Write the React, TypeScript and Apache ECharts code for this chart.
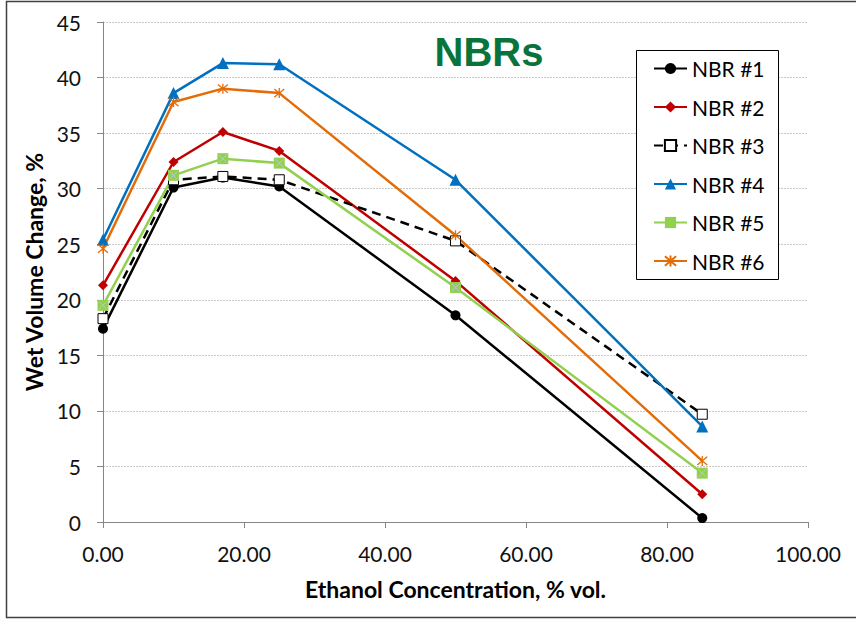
import React, { useEffect, useRef } from "react";
import * as echarts from "echarts";

const ethanol = [0, 10, 17, 25, 50, 85];
const seriesNames = ["NBR #1", "NBR #2", "NBR #3", "NBR #4", "NBR #5", "NBR #6"];
const nbr1 = [17.4, 30.1, 31.0, 30.2, 18.6, 0.35];
const nbr2 = [21.3, 32.4, 35.1, 33.4, 21.7, 2.5];
const nbr3 = [18.3, 30.8, 31.1, 30.8, 25.3, 9.7];
const nbr4 = [25.4, 38.6, 41.3, 41.2, 30.8, 8.6];
const nbr5 = [19.5, 31.2, 32.7, 32.3, 21.1, 4.4];
const nbr6 = [24.6, 37.8, 39.0, 38.6, 25.8, 5.5];
const chartTitle = "NBRs";
const xTitle = "Ethanol Concentration, % vol.";
const yTitle = "Wet Volume Change, %";

const FONT = "Lato, 'Open Sans', sans-serif";

const pair = (vals: number[]) => ethanol.map((x, i) => [x, vals[i]]);

export default function App() {
  const ref = useRef<HTMLDivElement>(null);
  useEffect(() => {
    if (!ref.current) return;
    const chart = echarts.init(ref.current, undefined, { renderer: "svg" });
    const starPath = "path://M0,0L10,10M10,0L0,10M5,-1L5,11";
    const xPath = "path://M0,0L10,10M10,0L0,10";
    const mk = (
      name: string,
      vals: number[],
      color: string,
      symbol: string,
      size: number,
      extra: any = {}
    ) => ({
      name,
      type: "line",
      data: pair(vals),
      symbol,
      symbolSize: size,
      showSymbol: true,
      lineStyle: { color, width: 2.5, type: "solid" },
      itemStyle: { color, borderColor: color, borderWidth: 0 },
      ...extra,
    });
    const series: any[] = [
      mk("NBR #1", nbr1, "#000000", "circle", 10),
      mk("NBR #2", nbr2, "#c00000", "diamond", 10),
      mk("NBR #3", nbr3, "#000000", "rect", 10, {
        lineStyle: { color: "#000", width: 2.5, type: [9, 6] },
        itemStyle: { color: "#ffffff", borderColor: "#000", borderWidth: 1 },
      }),
      mk("NBR #4", nbr4, "#0070c0", "triangle", 12),
      mk("NBR #5", nbr5, "#92d050", "rect", 11),
      mk("NBR #6", nbr6, "#e36c09", starPath, 10, {
        itemStyle: { color: "rgba(0,0,0,0)", borderColor: "#e36c09", borderWidth: 1.3 },
      }),
      {
        name: "NBR #5 overlay",
        type: "line",
        data: pair(nbr5),
        symbol: xPath,
        symbolSize: 8,
        lineStyle: { width: 0, opacity: 0 },
        itemStyle: { color: "rgba(0,0,0,0)", borderColor: "rgba(200,200,220,0.8)", borderWidth: 1 },
        z: 3,
        silent: true,
      },
    ];
    chart.setOption({
      animation: false,
      textStyle: { fontFamily: FONT },
      grid: { left: 103, right: 48, top: 22, bottom: 98, containLabel: false },
      xAxis: {
        type: "value",
        min: 0,
        max: 100,
        interval: 20,
        name: xTitle,
        nameLocation: "middle",
        nameGap: 55,
        nameTextStyle: { fontFamily: FONT, fontSize: 23, fontWeight: "bold", color: "#000" },
        axisLine: { show: true, lineStyle: { color: "#868686", width: 1 } },
        axisTick: { show: true, inside: false, length: 6, lineStyle: { color: "#868686" } },
        axisLabel: {
          fontFamily: FONT,
          fontSize: 21,
          color: "#111",
          margin: 21,
          formatter: (v: number) => v.toFixed(2),
        },
        splitLine: { show: false },
      },
      yAxis: {
        type: "value",
        min: 0,
        max: 45,
        interval: 5,
        name: yTitle,
        nameLocation: "middle",
        nameGap: 54,
        nameRotate: 90,
        nameTextStyle: { fontFamily: FONT, fontSize: 23, fontWeight: "bold", color: "#000" },
        axisLine: { show: true, lineStyle: { color: "#868686", width: 1 } },
        axisTick: { show: true, inside: false, length: 6, lineStyle: { color: "#868686" } },
        axisLabel: { fontFamily: FONT, fontSize: 21, color: "#111", margin: 22 },
        splitLine: { show: true, lineStyle: { color: "#c8c8c8", type: [2, 1], width: 1 } },
      },
      legend: {
        data: seriesNames,
        orient: "vertical",
        left: 653,
        top: 58,
        padding: 0,
        itemWidth: 33,
        itemHeight: 14,
        itemGap: 17.5,
        textStyle: { fontFamily: FONT, fontSize: 21, color: "#000", lineHeight: 20 },
        z: 10,
      },
      graphic: [
        {
          type: "rect",
          z: 5,
          shape: { x: 636.5, y: 50.5, width: 142, height: 229 },
          style: { fill: "#ffffff", stroke: "#000", lineWidth: 1 },
        },
        {
          type: "rect",
          z: 6,
          shape: { x: 6.5, y: 1.5, width: 900, height: 616 },
          style: { fill: "none", stroke: "#404040", lineWidth: 1.5 },
          silent: true,
        },
        {
          type: "text",
          z: 6,
          x: 489,
          y: 52,
          style: {
            text: chartTitle,
            fill: "#08743b",
            font: "bold 40px 'Liberation Sans', Arial, sans-serif",
            textAlign: "center",
            textVerticalAlign: "middle",
          },
        },
      ],
      series,
    });
    return () => chart.dispose();
  }, []);
  return (
    <div
      ref={ref}
      style={{ position: "absolute", left: 0, top: 0, width: 856, height: 620, background: "#fff" }}
    />
  );
}
